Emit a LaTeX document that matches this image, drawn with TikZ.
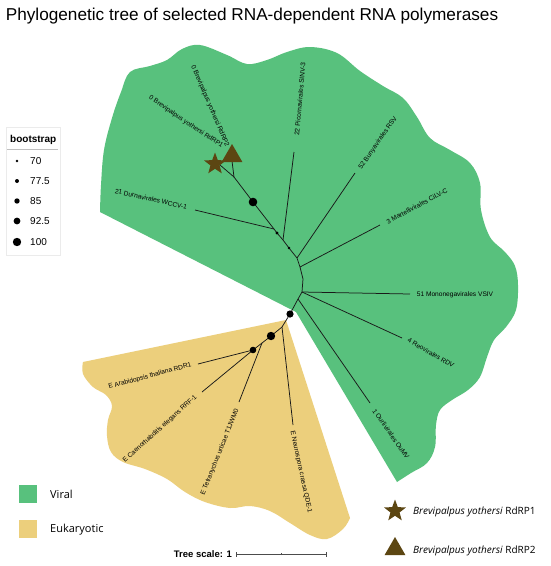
\documentclass[tikz,border=0pt]{standalone}
\usepackage{fontspec}
\setmainfont{Liberation Sans}
\newfontfamily\osans{Open Sans}
\usetikzlibrary{shapes.geometric}
\definecolor{viral}{RGB}{88,193,125}
\definecolor{euk}{RGB}{236,207,124}
\definecolor{mark}{RGB}{92,70,18}
\definecolor{branch}{RGB}{25,25,25}
\tikzset{
  br/.style={draw=branch,line width=0.75pt},
  lab/.style={font=\fontsize{6.6}{7}\selectfont,inner sep=0pt,text=black},
  bdot/.style={fill=black},
  starmark/.style={star,star points=5,star point ratio=2.4,fill=mark,inner sep=0pt,minimum size=23pt},
  trimark/.style={regular polygon,regular polygon sides=3,fill=mark,inner sep=0pt,minimum size=24pt},
  legtxt/.style={font=\osans\fontsize{11}{13}\selectfont,anchor=west,inner sep=0pt},
  bstxt/.style={font=\fontsize{10}{12}\selectfont,anchor=west,inner sep=0pt}
}
\begin{document}
\begin{tikzpicture}[x=1pt,y=-1pt]
\path[use as bounding box,fill=white] (0,0) rectangle (550,566);
% title
\node[font=\fontsize{17.2}{19}\selectfont,inner sep=0pt] (title) at (252,16) {Phylogenetic tree of selected RNA-dependent RNA polymerases};
% regions
\fill[viral] (296,312) -- (100,212)
  -- plot[smooth,tension=0.6] coordinates {(100,212) (101,185) (104,150) (112,118) (121,92) (130,72) (150,66) (167,60) (182,49) (200,45) (227,55) (247,64) (267,60) (287,52) (310,47) (337,53) (360,71) (383,86) (403,98) (417,117) (430,138) (450,150) (470,163) (480,183) (481,210) (490,237) (505,252) (515,266) (518,285) (516,310) (506,327) (494,340) (487,357) (480,377) (468,390) (452,400) (440,410) (436,425) (435,447) (427,463) (411,473) (397,482)}
  -- cycle;
\fill[euk] (286,320) -- (83,362)
  -- plot[smooth,tension=0.6] coordinates {(83,362) (83,374) (93,387) (106,395) (112,406) (108,420) (107,436) (111,452) (123,462) (145,469) (167,479) (185,492) (205,502) (230,508) (250,506) (270,511) (290,523) (310,535) (327,539) (343,529) (350,518)}
  -- cycle;
% tree coordinates
\coordinate (R) at (290,314);
\coordinate (N0) at (298,299);
\coordinate (N1) at (302,292);
\coordinate (K1) at (303,279);
\coordinate (N2) at (300,267);
\coordinate (N3) at (297,258);
\coordinate (D1) at (289,248);
\coordinate (NP) at (283,240);
\coordinate (D2) at (277,233);
\coordinate (ND) at (274,229);
\coordinate (BD) at (253,202);
\coordinate (S) at (234,177);
\coordinate (Lmono) at (410,294);
\coordinate (Lreo) at (402,338);
\coordinate (Lourl) at (370,403);
\coordinate (Lmart) at (380,225);
\coordinate (Lbuny) at (355,173);
\coordinate (Lpico) at (294,152);
\coordinate (Ldurn) at (195,210);
\coordinate (Lr1) at (220,165);
\coordinate (Lr2) at (232,161);
\coordinate (E1) at (282,327);
\coordinate (EB) at (271,336);
\coordinate (E2) at (262,343);
\coordinate (EM) at (253,350);
\coordinate (Lneur) at (293,425);
\coordinate (Ltetr) at (239,402);
\coordinate (Lcaen) at (202,392);
\coordinate (Larab) at (198,364);
% branches
\draw[br] (R) -- (N0) -- (N1) -- (K1) -- (N2) -- (N3) -- (D1) -- (NP) -- (D2) -- (ND) -- (BD) -- (S);
\draw[br] (N1) -- (Lmono);
\draw[br] (N1) -- (Lreo);
\draw[br] (N0) -- (Lourl);
\draw[br] (N2) -- (Lmart);
\draw[br] (N3) -- (Lbuny);
\draw[br] (NP) -- (Lpico);
\draw[br] (ND) -- (Ldurn);
\draw[br] (S) -- (Lr1);
\draw[br] (S) -- (Lr2);
\draw[br] (R) -- (E1) -- (EB) -- (E2) -- (EM);
\draw[br] (E1) -- (Lneur);
\draw[br] (E2) -- (Ltetr);
\draw[br] (EM) -- (Lcaen);
\draw[br] (EM) -- (Larab);
% bootstrap dots
\fill[bdot] (R) circle (3.6pt);
\fill[bdot] (BD) circle (4.3pt);
\fill[bdot] (D1) circle (1.4pt);
\fill[bdot] (D2) circle (1.7pt);
\fill[bdot] (EB) circle (4.2pt);
\fill[bdot] (EM) circle (3.3pt);
% markers
\node[trimark] (tri) at (232,156) {};
\node[starmark] (st) at (215,164) {};
% leaf labels
\node[lab,rotate=-34] (t-r1) at (186,122) {0 Brevipalpus yothersi RdRP1};
\node[lab,rotate=-67] (t-r2) at (210,106) {0 Brevipalpus yothersi RdRP2};
\node[lab,rotate=85] (t-pico) at (300,99) {22 Picornavirales SINV-3};
\node[lab,rotate=55] (t-buny) at (378,143) {52 Bunyavirales RSV};
\node[lab,rotate=28] (t-mart) at (417,206) {3 Martellivirales CiLV-C};
\node[lab] (t-mono) at (455,295) {51 Mononegavirales VSIV};
\node[lab,rotate=-30] (t-reo) at (431,353) {4 Reovirales RDV};
\node[lab,rotate=-55] (t-ourl) at (391,434) {1 Ourlivirales OuMV};
\node[lab,rotate=-13] (t-durn) at (151,199) {21 Durnavirales WCCV-1};
\node[lab,rotate=15] (t-arab) at (150,376) {E Arabidopsis thaliana RDR1};
\node[lab,rotate=42] (t-caen) at (160,429) {E Caenorhabditis elegans RRF-1};
\node[lab,rotate=68] (t-tetr) at (220,452) {E Tetranychus urticae T1JWM0};
\node[lab,rotate=-78] (t-neur) at (301,472) {E Neurospora crassa QDE-1};
% bootstrap legend
\draw[draw=black!8,line width=0.6pt] (6,127) rectangle (60,255);
\node[font=\bfseries\fontsize{10}{12}\selectfont,anchor=west,inner sep=0pt] (bs) at (10,140) {bootstrap};
\draw[draw=black!25,line width=0.5pt] (7,149) -- (58,149);
\fill (17,161) circle (1.3pt); \node[bstxt] (b70) at (30,161) {70};
\fill (17,181) circle (2pt); \node[bstxt] (b775) at (30,181) {77.5};
\fill (17,201) circle (2.7pt); \node[bstxt] (b85) at (30,201) {85};
\fill (17,221) circle (3.4pt); \node[bstxt] (b925) at (30,221) {92.5};
\fill (17,242) circle (4.2pt); \node[bstxt] (b100) at (30,242) {100};
% region legend
\fill[viral] (19,485) rectangle (37,503);
\node[legtxt] (lv) at (50,494) {Viral};
\fill[euk] (19,520) rectangle (37,538);
\node[legtxt] (le) at (50,530) {Eukaryotic};
% marker legend
\node[starmark] (lst) at (395,511) {};
\node[legtxt,font=\osans\fontsize{10}{12}\selectfont] (lr1) at (413,512) {\textit{Brevipalpus yothersi} RdRP1};
\node[trimark] (ltri) at (395,549) {};
\node[legtxt,font=\osans\fontsize{10}{12}\selectfont] (lr2) at (413,551) {\textit{Brevipalpus yothersi} RdRP2};
% tree scale
\node[font=\bfseries\fontsize{9.5}{11}\selectfont,anchor=east,inner sep=0pt] (ts) at (232,554) {Tree scale: 1};
\coordinate (sa) at (236,554);
\coordinate (sb) at (326,554);
\coordinate (sm) at (281,554);
\draw[draw=black!70,line width=0.6pt] (sa) -- (sb);
\draw[draw=black!70,line width=0.6pt] ([yshift=-2.5pt]sa) -- ([yshift=2.5pt]sa);
\draw[draw=black!70,line width=0.6pt] ([yshift=-2.5pt]sb) -- ([yshift=2.5pt]sb);
\draw[draw=black!70,line width=0.6pt] ([yshift=-1.2pt]sm) -- ([yshift=1.2pt]sm);
\end{tikzpicture}
\end{document}
